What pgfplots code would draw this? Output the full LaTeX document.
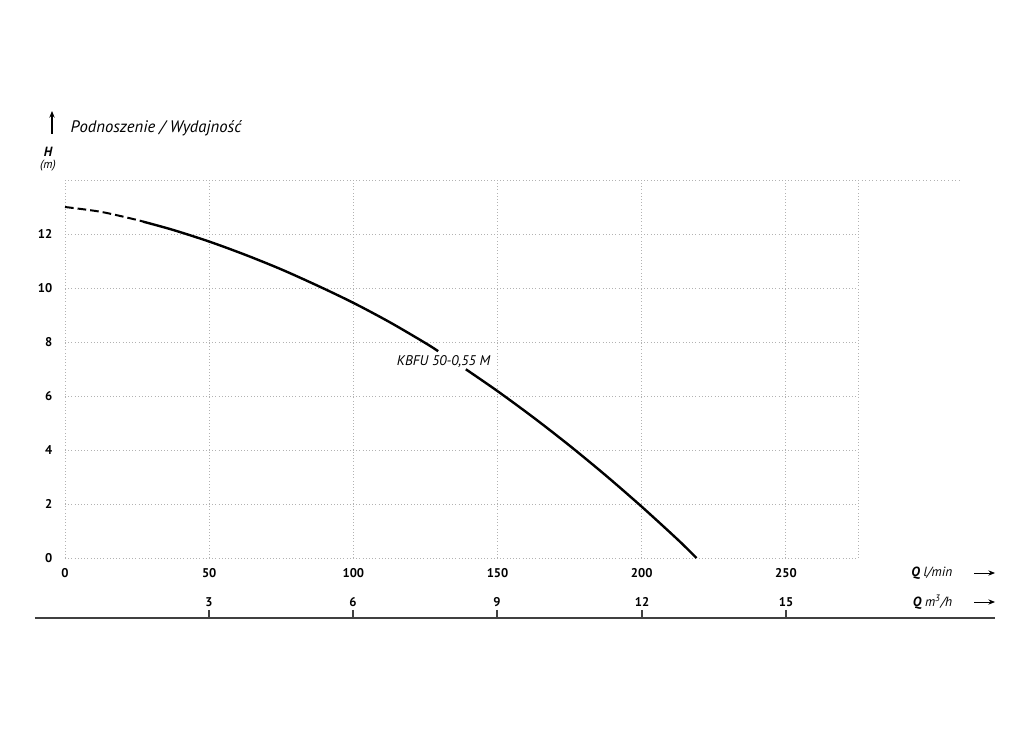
\documentclass[border=0pt]{standalone}
\usepackage{fontspec}
\setmainfont{PT Sans}
\usepackage{pgfplots}
\pgfplotsset{compat=1.18}
\usetikzlibrary{arrows.meta}

\tikzset{gridline/.style={gray!60, dotted, line width=0.7pt}}

\begin{document}
\begin{tikzpicture}
\begin{axis}[
    anchor=origin, at={(0,0)},
    scale only axis,
    width=594.75pt, height=283.5pt,
    xmin=0, xmax=275,
    ymin=0, ymax=14,
    clip=false,
    axis line style={draw=none},
    major tick style={draw=none},
    xtick={0,50,100,150,200,250},
    ytick={0,2,4,6,8,10,12},
    extra x ticks={275}, extra x tick labels={},
    extra y ticks={14}, extra y tick labels={},
    extra tick style={grid=major, major tick style={draw=none}},
    grid=major,
    major grid style={gridline},
    /pgf/number format/assume math mode=true,
    tick label style={font=\fontsize{9.5}{11}\selectfont\bfseries},
    yticklabel style={anchor=east, xshift=-6pt},
    xticklabel style={yshift=-4pt},
]
% dashed start of the curve
\addplot[black, line width=1.5pt, dash pattern=on 6.5pt off 3pt, smooth]
    coordinates {(0,13.0)(12.5,12.82)(25,12.52)(27,12.46)};
% solid part, broken by the label
\addplot[black, line width=1.8pt, smooth]
    coordinates {(27,12.46)(37.5,12.15)(50,11.72)(62.5,11.23)(75,10.69)(87.5,10.09)(100,9.45)(112.5,8.74)(125,7.96)(129.4,7.66)};
\addplot[black, line width=1.8pt, smooth]
    coordinates {(139,6.99)(150,6.18)(162.5,5.20)(175,4.16)(187.5,3.06)(200,1.90)(212.5,0.68)(219,0)};
\node[font=\fontsize{10.5}{12}\selectfont\itshape] at (axis cs:131.3,7.26) {KBFU 50-0,55 M};
\end{axis}

\begin{scope}[x=0.75pt, y=-0.75pt, shift={(-48.75pt,418.5pt)}]
\path[use as bounding box] (0,0) rectangle (1024,731);
\draw[gridline] (858,180) -- (960,180);
\draw[-{Stealth[length=5pt,width=4pt]}, line width=0.8pt] (52,134) -- (52,111);
\node[anchor=west, font=\fontsize{12.5}{14}\selectfont\itshape] at (66,128) {Podnoszenie / Wydajność};
\node[font=\fontsize{10}{11}\selectfont\bfseries\itshape] at (48,152) {H};
\node[font=\fontsize{9}{10}\selectfont\itshape] at (48,166) {(m)};
\node[anchor=east, font=\fontsize{10}{12}\selectfont\itshape] at (957,573) {\textbf{Q} l/min};
\node[anchor=east, font=\fontsize{10}{12}\selectfont\itshape] at (957,602) {\textbf{Q} m\textsuperscript{3}/h};
\draw[-{Stealth[length=5pt,width=4pt]}, line width=0.7pt] (974,573) -- (995,573);
\draw[-{Stealth[length=5pt,width=4pt]}, line width=0.7pt] (974,602) -- (995,602);
\draw[black!75, line width=0.9pt] (35,618) -- (995,618);
\foreach \xx/\mm in {209/3, 353/6, 497/9, 642/12, 786/15} {
    \draw[black!75, line width=0.9pt] (\xx,610) -- (\xx,618);
    \node[font=\fontsize{9.5}{11}\selectfont\bfseries] at (\xx,602) {\mm};
}
\end{scope}
\end{tikzpicture}
\end{document}
